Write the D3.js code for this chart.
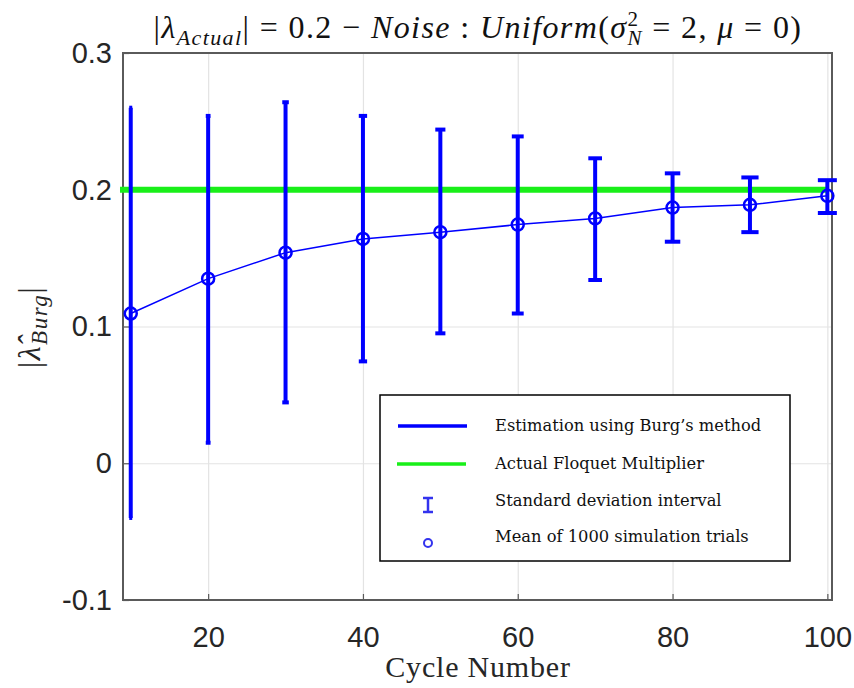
<!DOCTYPE html>
<html>
<head>
<meta charset="utf-8">
<script src="https://cdn.jsdelivr.net/npm/d3@7"></script>
<style>
  body { margin: 0; background: #fff; }
  svg { display: block; }
</style>
</head>
<body>
<div id="graphContainer"></div>
<script>
// values
var cycles = [10, 20, 30, 40, 50, 60, 70, 80, 90, 100];
var meanVals = [0.1095, 0.135, 0.154, 0.164, 0.169, 0.1745, 0.179, 0.187, 0.189, 0.1956];
var upperVals = [0.26, 0.254, 0.264, 0.254, 0.244, 0.239, 0.223, 0.212, 0.209, 0.207];
var lowerVals = [-0.04, 0.015, 0.0445, 0.0745, 0.095, 0.1095, 0.134, 0.162, 0.169, 0.183];
var actualValue = 0.2;
var xTicks = [20, 40, 60, 80, 100];
var yTicks = [-0.1, 0, 0.1, 0.2, 0.3];
var legendLabels = ["Estimation using Burg\u2019s method", "Actual Floquet Multiplier",
                    "Standard deviation interval", "Mean of 1000 simulation trials"];

var width = 854, height = 688;
var padL = 123, padR = 832, padT = 53, padB = 600;
var blue = "#0000ff", green = "#19ef19", axisCol = "#5a5a5a";

var svg = d3.select("#graphContainer")
    .append("svg")
    .attr("width", width)
    .attr("height", height);

var xScale = d3.scaleLinear().domain([9, 100.6]).range([padL, padR]);
var yScale = d3.scaleLinear().domain([-0.1, 0.3]).range([padB, padT]);

// grid
svg.append("g")
    .attr("transform", `translate(0, ${padB})`)
    .call(d3.axisBottom(xScale).tickValues(xTicks).tickSize(-(padB - padT)).tickFormat(""))
    .call(g => g.select(".domain").remove())
    .selectAll("line").attr("stroke", "#e3e3e3").attr("stroke-width", 1.2);
svg.append("g")
    .attr("transform", `translate(${padL}, 0)`)
    .call(d3.axisLeft(yScale).tickValues(yTicks).tickSize(-(padR - padL)).tickFormat(""))
    .call(g => g.select(".domain").remove())
    .selectAll("line").attr("stroke", "#e3e3e3").attr("stroke-width", 1.2);

// axes with inward ticks
var xAxis = svg.append("g")
    .attr("transform", `translate(0, ${padB})`)
    .call(d3.axisBottom(xScale).tickValues(xTicks).tickSizeInner(-6).tickSizeOuter(0).tickPadding(26));
var yAxis = svg.append("g")
    .attr("transform", `translate(${padL}, 0)`)
    .call(d3.axisLeft(yScale).tickValues(yTicks).tickSizeInner(-6).tickSizeOuter(0).tickPadding(11)
        .tickFormat(d => d === 0 ? "0" : d3.format(".1f")(d).replace("\u2212", "-")));
[xAxis, yAxis].forEach(function(a) {
    a.select(".domain").remove();
    a.selectAll("line").attr("stroke", axisCol).attr("stroke-width", 1.2);
    a.selectAll("text")
        .attr("fill", "#262626")
        .attr("font-family", "Liberation Sans, Arial, sans-serif")
        .attr("font-size", 29);
});

// box
svg.append("rect")
    .attr("x", padL).attr("y", padT)
    .attr("width", padR - padL).attr("height", padB - padT)
    .attr("fill", "none")
    .attr("stroke", axisCol)
    .attr("stroke-width", 2);

// actual value line
svg.append("line")
    .attr("x1", xScale(9) - 3).attr("x2", xScale(100))
    .attr("y1", yScale(actualValue)).attr("y2", yScale(actualValue))
    .attr("stroke", green)
    .attr("stroke-width", 6);

// cap width grows along the x axis in the reference
var capScale = d3.scaleLinear().domain([10, 100]).range([3, 19]);

var bars = svg.append("g").attr("stroke", blue);
cycles.forEach(function(c, i) {
    var cx = xScale(c);
    bars.append("line")
        .attr("x1", cx).attr("x2", cx)
        .attr("y1", yScale(upperVals[i])).attr("y2", yScale(lowerVals[i]))
        .attr("stroke-width", 4);
    var w = capScale(c) / 2;
    [upperVals[i], lowerVals[i]].forEach(function(v) {
        bars.append("line")
            .attr("x1", cx - w).attr("x2", cx + w)
            .attr("y1", yScale(v)).attr("y2", yScale(v))
            .attr("stroke-width", 4);
    });
});

var line = d3.line()
    .x((d, i) => xScale(cycles[i]))
    .y(d => yScale(d));
svg.append("path")
    .datum(meanVals)
    .attr("d", line)
    .attr("fill", "none")
    .attr("stroke", blue)
    .attr("stroke-width", 1.5);

svg.selectAll("circle.mean")
    .data(meanVals)
    .join("circle")
    .attr("class", "mean")
    .attr("cx", (d, i) => xScale(cycles[i]))
    .attr("cy", d => yScale(d))
    .attr("r", 6)
    .attr("fill", "none")
    .attr("stroke", blue)
    .attr("stroke-width", 2.5);

// title
var serif = "Liberation Serif, Times New Roman, serif";
var title = svg.append("text")
    .attr("x", 478).attr("y", 38)
    .attr("text-anchor", "middle")
    .attr("font-family", serif)
    .attr("font-size", 32)
    .attr("letter-spacing", 1.4)
    .attr("fill", "#111");
function part(t, txt, italic, dy, size) {
    var s = t.append("tspan").text(txt);
    if (italic) s.attr("font-style", "italic");
    if (dy) s.attr("dy", dy);
    if (size) s.attr("font-size", size);
    return s;
}
part(title, "|");
part(title, "\u03bb", true);
part(title, "Actual", true, 7, 22);
part(title, "| = 0.2 \u2212 ", false, -7);
part(title, "Noise", true);
part(title, " : ");
part(title, "Uniform", true);
part(title, "(");
part(title, "\u03c3", true);
part(title, "2", false, -12, 21);
part(title, "N", true, 19, 21).attr("dx", -12);
part(title, " = 2, ", false, -7);
part(title, "\u03bc", true);
part(title, " = 0)");

// y label
var ylab = svg.append("text")
    .attr("transform", "translate(40, 327) rotate(-90)")
    .attr("text-anchor", "middle")
    .attr("font-family", serif)
    .attr("font-size", 32)
    .attr("letter-spacing", 1.5)
    .attr("fill", "#262626");
part(ylab, "|");
part(ylab, "\u03bb\u0302", true);
part(ylab, "Burg", true, 7, 23);
part(ylab, "|", false, -7);

// x label
svg.append("text")
    .attr("x", 478).attr("y", 677)
    .attr("text-anchor", "middle")
    .attr("font-family", serif)
    .attr("font-size", 30)
    .attr("letter-spacing", 0.8)
    .attr("fill", "#262626")
    .text("Cycle Number");

// legend
var lg = svg.append("g");
lg.append("rect")
    .attr("x", 380).attr("y", 395)
    .attr("width", 410).attr("height", 166)
    .attr("fill", "#fff")
    .attr("stroke", "#000")
    .attr("stroke-width", 1.5);
var rowY = [426, 464, 505, 541];
lg.append("line").attr("x1", 398).attr("x2", 467).attr("y1", rowY[0]).attr("y2", rowY[0])
    .attr("stroke", blue).attr("stroke-width", 3.5);
lg.append("line").attr("x1", 397).attr("x2", 466).attr("y1", rowY[1]).attr("y2", rowY[1])
    .attr("stroke", green).attr("stroke-width", 3.5);
var eg = lg.append("g").attr("stroke", "#3333ee").attr("stroke-width", 2.5);
eg.append("line").attr("x1", 428).attr("x2", 428).attr("y1", rowY[2] - 7).attr("y2", rowY[2] + 7);
eg.append("line").attr("x1", 423).attr("x2", 433).attr("y1", rowY[2] - 7).attr("y2", rowY[2] - 7);
eg.append("line").attr("x1", 423).attr("x2", 433).attr("y1", rowY[2] + 7).attr("y2", rowY[2] + 7);
lg.append("circle").attr("cx", 428).attr("cy", rowY[3] + 2).attr("r", 4)
    .attr("fill", "none").attr("stroke", "#3333ee").attr("stroke-width", 2);
lg.selectAll("text.lab")
    .data(legendLabels)
    .join("text")
    .attr("class", "lab")
    .attr("x", 495)
    .attr("y", (d, i) => rowY[i] + 5 - (i > 1 ? 4 : 0))
    .attr("font-family", "DejaVu Serif, Georgia, serif")
    .attr("font-size", 16.3)
    .attr("fill", "#111")
    .text(d => d);
</script>
</body>
</html>
